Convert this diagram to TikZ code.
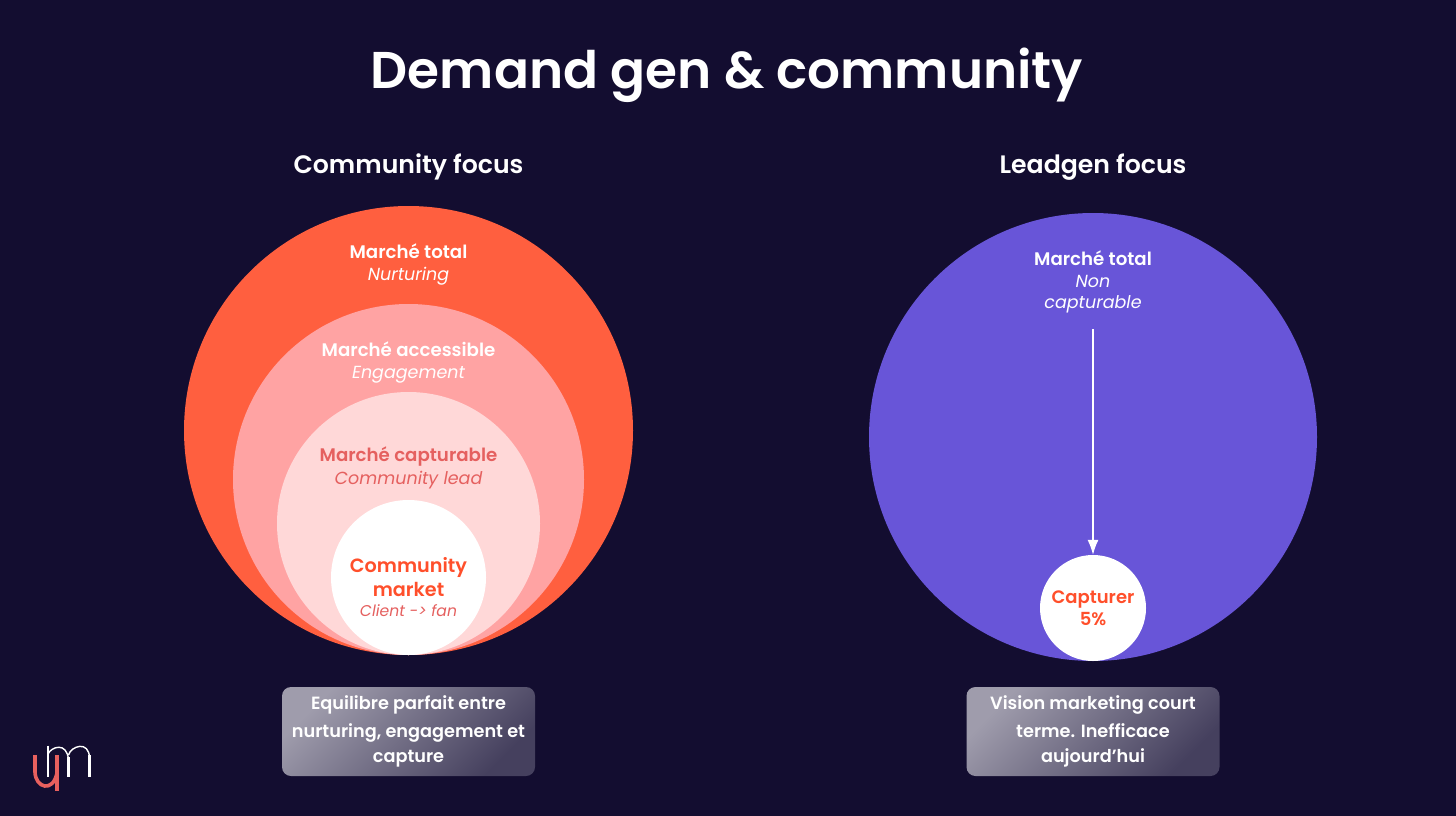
\documentclass[tikz,border=0pt]{standalone}
\usepackage{fontspec}
\usetikzlibrary{arrows.meta}
\setmainfont{Poppins}[BoldFont={Poppins SemiBold},ItalicFont={Poppins Italic}]
\definecolor{bg}{HTML}{130D30}
\definecolor{orangeA}{HTML}{FF5F3F}
\definecolor{pinkB}{HTML}{FFA3A3}
\definecolor{pinkC}{HTML}{FFD8D8}
\definecolor{violetA}{HTML}{6855D8}
\definecolor{redT}{HTML}{E5605F}
\definecolor{orangeT}{HTML}{FF4F2B}
\definecolor{boxL}{HTML}{9F9CAC}
\definecolor{boxD}{HTML}{45405E}
\definecolor{logoR}{HTML}{E8605E}
\newcommand{\fs}[1]{\fontsize{#1}{#1}\selectfont}
\tikzset{
 disc/.style={circle,inner sep=0pt,minimum size=#1},
 lbl/.style={align=center,inner sep=0pt,text=white},
 titre/.style={lbl,font=\fs{51.7}\bfseries},
 sous/.style={lbl,font=\fs{25.2}\bfseries},
 gras/.style={lbl,font=\fs{18.2}\bfseries},
 ital/.style={lbl,font=\fs{17.5}\itshape},
 infobox/.style={rounded corners=9pt,minimum width=253pt,minimum height=89pt,inner sep=0pt,
   shading=axis,left color=boxL,right color=boxD,shading angle=45,align=center,text=white,
   font=\fs{17.7}\bfseries},
}
\begin{document}
\begin{tikzpicture}[x=1pt,y=-1pt]
\useasboundingbox (0,0) rectangle (1456,816);
\fill[bg] (0,0) rectangle (1456,816);
\node[titre] (title) at (727,75) {Demand gen \& community};
\node[sous] (h1) at (408.5,167) {Community focus};
\node[sous] (h2) at (1093,167) {Leadgen focus};
\node[disc=449pt,fill=orangeA] (c1) at (408.5,430.5) {};
\node[disc=351pt,fill=pinkB] (c2) at (408.5,479.5) {};
\node[disc=263pt,fill=pinkC] (c3) at (408.5,523.5) {};
\node[disc=155pt,fill=white] (c4) at (408.5,577.5) {};
\node[gras] (a1) at (408.5,251) {Marché total};
\node[ital] (a2) at (408.5,276) {Nurturing};
\node[gras] (b1) at (408.5,349) {Marché accessible};
\node[ital] (b2) at (408.5,375) {Engagement};
\node[gras,text=redT] (d1) at (408.5,456.5) {Marché capturable};
\node[ital,text=redT] (d2) at (408.5,480.5) {Community lead};
\node[lbl,font=\fs{19.2}\bfseries,text=orangeT] (e1) at (408.5,577) {Community\\[4.5pt]market};
\node[lbl,font=\fs{15.6}\itshape,text=redT] (e2) at (408.5,611) {Client -> fan};
\node[disc=448pt,fill=violetA] (r1) at (1093,437) {};
\node[disc=106pt,fill=white] (r2) at (1093,608) {};
\node[gras] (f1) at (1093,258) {Marché total};
\node[ital] (f2) at (1093,294.5) {Non\\[3.5pt]capturable};
\node[lbl,font=\fs{18}\bfseries,text=orangeT] (g) at (1093,608) {Capturer\\[3.5pt]5\%};
\coordinate (arrowtop) at (1093,329);
\draw[white,line width=1.2pt,-{Latex[length=15pt,width=11pt]}] (arrowtop) -- (r2.north);
\node[infobox] (b1box) at (408.5,731.5) {Equilibre parfait entre\\[7.5pt]nurturing, engagement et\\[7.5pt]capture};
\node[infobox] (b2box) at (1093,731.5) {Vision marketing court\\[7.5pt]terme. Inefficace\\[7.5pt]aujourd’hui};
% logo
\draw[white,line width=2pt] (48,745.5) -- (48,777);
\draw[white,line width=1.4pt] (48,754) .. controls (51,747) and (67,741) .. (68.5,760);
\draw[white,line width=2.8pt] (68.5,757) -- (68.5,777);
\draw[white,line width=1.4pt] (68.5,755) .. controls (71,746) and (89,740) .. (89.5,758);
\draw[white,line width=2.8pt] (89.5,755) -- (89.5,777);
\draw[logoR,line width=3.6pt] (35,755) -- (35,772) .. controls (35.5,788) and (53,793) .. (57,773);
\draw[logoR,line width=4pt] (57,755) -- (57,791);
\end{tikzpicture}
\end{document}
